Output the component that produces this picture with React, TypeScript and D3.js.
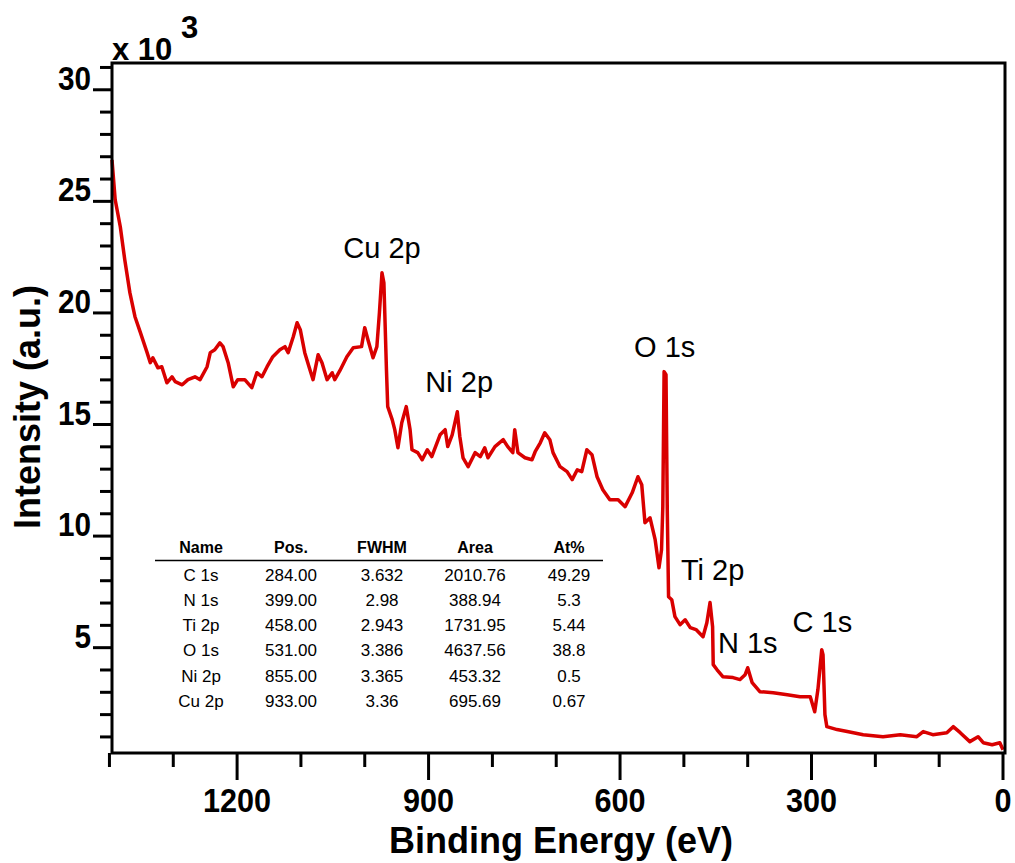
import React from 'react';
import * as d3 from 'd3';

// Binding energy (eV) and intensity (x10^3 counts)
const energy = [
  1396, 1391, 1383, 1376, 1368, 1360, 1352, 1341, 1336, 1332,
  1324, 1318, 1310, 1302, 1297, 1286, 1277, 1266, 1258, 1247,
  1242, 1235, 1227, 1222, 1214, 1206, 1199, 1188, 1177, 1169,
  1161, 1153, 1144, 1133, 1125, 1120, 1112, 1106, 1101, 1094,
  1086, 1081, 1073, 1067, 1059, 1051, 1047, 1039, 1028, 1018,
  1005, 1000, 995, 987, 981, 977, 973, 970, 966, 964,
  957, 953, 948, 942, 935, 929, 926, 917, 910, 902,
  895, 882, 874, 870, 863, 855, 851, 846, 838, 827,
  819, 812, 807, 796, 783, 776, 768, 765, 760, 749,
  738, 733, 725, 718, 710, 705, 694, 683, 675, 667,
  660, 652, 644, 636, 627, 616, 603, 592, 581, 572,
  566, 561, 553, 545, 539, 535, 533, 531, 528, 526,
  524, 519, 514, 506, 498, 490, 481, 470, 464, 459,
  455, 454, 448, 439, 423, 412, 404, 400, 393, 381,
  360, 338, 318, 302, 295, 290, 284, 282, 279, 276,
  260, 244, 219, 188, 161, 135, 125, 110, 88, 78,
  67, 52, 39, 31, 17, 5, 0,
];
const intensity = [
  26.86, 25.07, 23.86, 22.38, 20.91, 19.83, 19.16, 18.22, 17.77, 17.99,
  17.54, 17.59, 16.87, 17.14, 16.92, 16.78, 17.01, 17.14, 17.01, 17.59,
  18.22, 18.35, 18.66, 18.49, 17.77, 16.69, 17.01, 17.01, 16.65, 17.32,
  17.14, 17.59, 18.04, 18.35, 18.49, 18.22, 18.93, 19.56, 19.25, 18.22,
  17.46, 17.01, 18.13, 17.77, 17.01, 17.32, 17.01, 17.41, 18.04, 18.44,
  18.49, 19.34, 18.8, 17.99, 18.49, 20.01, 21.8, 21.35, 17.46, 15.8,
  15.22, 14.77, 13.96, 15.08, 15.8, 14.77, 13.87, 13.74, 13.42, 13.87,
  13.56, 14.54, 14.77, 14.01, 14.54, 15.57, 14.45, 13.51, 13.11, 13.74,
  13.56, 13.96, 13.51, 14.01, 14.32, 14.01, 13.74, 14.77, 13.74, 13.51,
  13.42, 13.78, 14.18, 14.63, 14.32, 13.74, 13.11, 12.89, 12.53, 12.97,
  12.89, 13.87, 13.65, 12.66, 12.08, 11.63, 11.63, 11.32, 11.94, 12.66,
  12.3, 10.6, 10.82, 9.84, 8.58, 9.39, 11.32, 17.37, 17.23, 11.18,
  7.28, 7.15, 6.39, 6.03, 6.25, 5.9, 5.81, 5.49, 6.12, 7.02,
  5.94, 4.24, 4.01, 3.7, 3.66, 3.57, 3.79, 4.1, 3.43, 3.03,
  2.98, 2.89, 2.8, 2.8, 2.13, 3.12, 4.91, 4.69, 2.0, 1.46,
  1.33, 1.24, 1.1, 1.01, 1.1, 1.01, 1.24, 1.1, 1.19, 1.46,
  1.19, 0.79, 1.01, 0.74, 0.65, 0.74, 0.43,
];

const xMajorTicks = [1200, 900, 600, 300, 0];
const xMinorTicks = [1400, 1300, 1100, 1000, 800, 700, 500, 400, 200, 100];
const yMajorTicks = [5, 10, 15, 20, 25, 30];
const yMinorTicks = [1, 2, 3, 4, 6, 7, 8, 9, 11, 12, 13, 14, 16, 17, 18, 19, 21, 22, 23, 24, 26, 27, 28, 29, 31];

const peakLabels = ['Cu 2p', 'Ni 2p', 'O 1s', 'Ti 2p', 'N 1s', 'C 1s'];
const peakLabelEnergy = [973, 852, 530, 455, 400, 283];
const peakLabelIntensity = [22.47, 16.47, 18.04, 8.05, 4.78, 5.72];

const tableHeaders = ['Name', 'Pos.', 'FWHM', 'Area', 'At%'];
const tableNames = ['C 1s', 'N 1s', 'Ti 2p', 'O 1s', 'Ni 2p', 'Cu 2p'];
const tablePos = ['284.00', '399.00', '458.00', '531.00', '855.00', '933.00'];
const tableFWHM = ['3.632', '2.98', '2.943', '3.386', '3.365', '3.36'];
const tableArea = ['2010.76', '388.94', '1731.95', '4637.56', '453.32', '695.69'];
const tableAt = ['49.29', '5.3', '5.44', '38.8', '0.5', '0.67'];

const W = 1015;
const H = 863;
const LEFT = 112;
const RIGHT = 1005;
const TOP = 63;
const BOTTOM = 753;
const RED = '#d90000';
const FONT = 'Arial, "Liberation Sans", Helvetica, sans-serif';

export default function App() {
  const x = d3.scaleLinear().domain([1396, 0]).range([LEFT, 1003]);
  const y = d3.scaleLinear().domain([0.28, 31.2]).range([BOTTOM, TOP]);

  const pts: [number, number][] = energy.map((e, i) => [e, intensity[i]]);
  const line = d3
    .line<[number, number]>()
    .x((d) => x(d[0]))
    .y((d) => y(d[1]))
    .curve(d3.curveLinear);

  const colX = [201, 291, 382, 475, 569];
  const headerY = 553;
  const rowY0 = 580.5;
  const rowStep = 25.3;
  const columns = [tableNames, tablePos, tableFWHM, tableArea, tableAt];

  return (
    <svg
      width={W}
      height={H}
      viewBox={`0 0 ${W} ${H}`}
      style={{ position: 'absolute', left: 0, top: 0, background: '#fff' }}
      fontFamily={FONT}
    >
      <rect x={0} y={0} width={W} height={H} fill="#fff" />
      {/* spectrum */}
      <path d={line(pts) || ''} fill="none" stroke={RED} strokeWidth={3.5} strokeLinejoin="round" />

      {/* frame */}
      <rect x={LEFT} y={TOP} width={RIGHT - LEFT} height={BOTTOM - TOP} fill="none" stroke="#000" strokeWidth={3} />

      {/* x ticks */}
      {xMinorTicks.map((t) => (
        <line key={'xm' + t} x1={x(t)} x2={x(t)} y1={BOTTOM} y2={BOTTOM + 14} stroke="#000" strokeWidth={3} />
      ))}
      {xMajorTicks.map((t) => (
        <g key={'xM' + t}>
          <line x1={x(t)} x2={x(t)} y1={BOTTOM} y2={BOTTOM + 27} stroke="#000" strokeWidth={3} />
          <text
            transform={`translate(${x(t)},812) scale(0.9,1)`}
            textAnchor="middle"
            fontSize={34}
            fontWeight="bold"
          >
            {t}
          </text>
        </g>
      ))}

      {/* y ticks */}
      {yMinorTicks.map((t) => (
        <line key={'ym' + t} x1={LEFT - 12} x2={LEFT} y1={y(t)} y2={y(t)} stroke="#000" strokeWidth={3} />
      ))}
      {yMajorTicks.map((t) => (
        <g key={'yM' + t}>
          <line x1={LEFT - 19} x2={LEFT} y1={y(t)} y2={y(t)} stroke="#000" strokeWidth={3} />
          <text
            transform={`translate(91,${y(t)}) scale(0.9,1)`}
            textAnchor="end"
            fontSize={33}
            fontWeight="bold"
          >
            {t}
          </text>
        </g>
      ))}

      {/* multiplier */}
      <text x={112} y={60} fontSize={31} fontWeight="bold">
        x 10
      </text>
      <text x={181} y={38} fontSize={31} fontWeight="bold">
        3
      </text>

      {/* axis titles */}
      <text x={561} y={853} textAnchor="middle" fontSize={36} fontWeight="bold">
        Binding Energy (eV)
      </text>
      <text transform="translate(40,407) rotate(-90)" textAnchor="middle" fontSize={36} fontWeight="bold">
        Intensity (a.u.)
      </text>

      {/* peak labels */}
      {peakLabels.map((lab, i) => (
        <text key={lab} x={x(peakLabelEnergy[i])} y={y(peakLabelIntensity[i])} textAnchor="middle" fontSize={29}>
          {lab}
        </text>
      ))}

      {/* table */}
      {tableHeaders.map((h, j) => (
        <text key={h} x={colX[j]} y={headerY} textAnchor="middle" fontSize={16} fontWeight="bold">
          {h}
        </text>
      ))}
      <line x1={155} x2={603} y1={560.5} y2={560.5} stroke="#000" strokeWidth={1.5} />
      {columns.map((col, j) =>
        col.map((v, i) => (
          <text key={j + '-' + i} x={colX[j]} y={rowY0 + i * rowStep} textAnchor="middle" fontSize={17}>
            {v}
          </text>
        ))
      )}
    </svg>
  );
}
